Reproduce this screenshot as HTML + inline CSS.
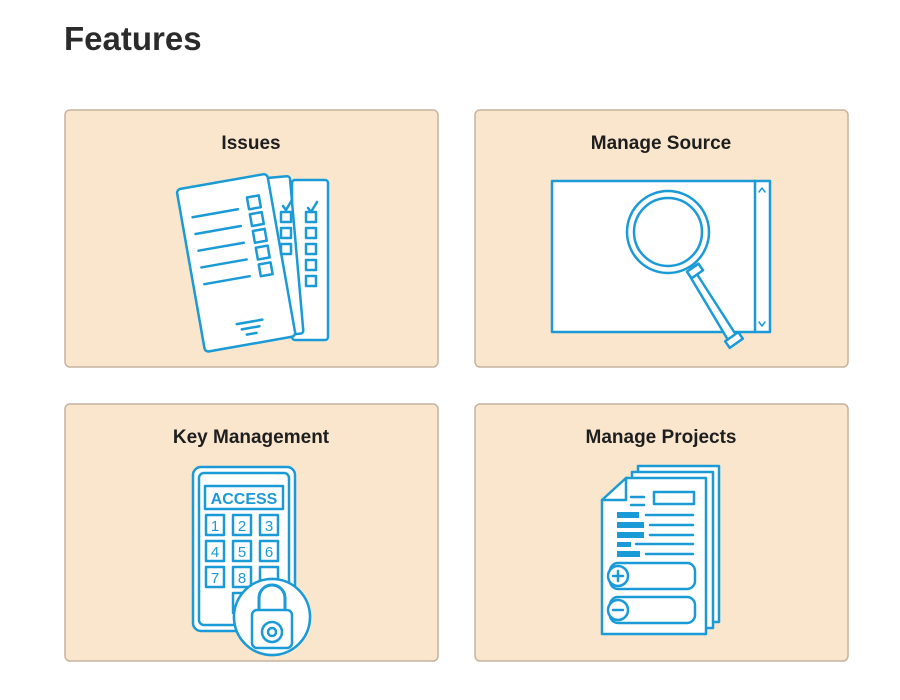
<!DOCTYPE html>
<html><head><meta charset="utf-8"><style>
body{margin:0;background:#fff;width:900px;height:700px;overflow:hidden;font-family:"Liberation Sans",Arial,sans-serif;}
</style></head><body>
<svg width="900" height="700" xmlns="http://www.w3.org/2000/svg" style="position:absolute;left:0;top:0">
<text x="64" y="50" font-family="Liberation Sans, sans-serif" font-weight="bold" font-size="33" fill="#2b2b2b">Features</text>
<g fill="#fae6cd" stroke="#c6b39e" stroke-width="1.5">
<rect x="65" y="110" width="373" height="257" rx="5"/>
<rect x="475" y="110" width="373" height="257" rx="5"/>
<rect x="65" y="404" width="373" height="257" rx="5"/>
<rect x="475" y="404" width="373" height="257" rx="5"/>
</g>
<g font-family="Liberation Sans, sans-serif" font-weight="bold" font-size="19" fill="#1e1e1e" text-anchor="middle">
<text x="251" y="149">Issues</text>
<text x="661" y="149">Manage Source</text>
<text x="251" y="443">Key Management</text>
<text x="661" y="443">Manage Projects</text>
</g>
<g stroke="#1a9ad6" stroke-width="2.5" fill="#fff" stroke-linejoin="round" stroke-linecap="round">
<!-- Issues -->
<rect x="292" y="180" width="36" height="160" rx="3"/>
<g transform="rotate(-5 270 260)"><rect x="245" y="178" width="52" height="158" rx="3"/></g>
<g transform="rotate(-10 238 262)"><rect x="190" y="180" width="92" height="165" rx="4"/>
<line x1="201" y1="210" x2="247" y2="210"/><line x1="201" y1="227" x2="247" y2="227"/><line x1="201" y1="244" x2="247" y2="244"/><line x1="201" y1="261" x2="247" y2="261"/><line x1="201" y1="278" x2="247" y2="278"/>
<line x1="226" y1="323" x2="252" y2="323"/><line x1="230" y1="329" x2="248" y2="329"/><line x1="234" y1="335" x2="244" y2="335"/>
<rect x="258" y="200" width="12" height="12"/><rect x="258" y="217" width="12" height="12"/><rect x="258" y="234" width="12" height="12"/><rect x="258" y="251" width="12" height="12"/><rect x="258" y="268" width="12" height="12"/></g>
<rect x="306" y="212" width="10" height="10" fill="none"/><rect x="306" y="228" width="10" height="10" fill="none"/><rect x="306" y="244" width="10" height="10" fill="none"/><rect x="306" y="260" width="10" height="10" fill="none"/><rect x="306" y="276" width="10" height="10" fill="none"/>
<path d="M308 208l3 4 6-10" fill="none"/><path d="M283 206l3 4 6-10" fill="none"/>
<rect x="281" y="212" width="10" height="10" fill="none"/><rect x="281" y="228" width="10" height="10" fill="none"/><rect x="281" y="244" width="10" height="10" fill="none"/>
<!-- Manage Source -->
<rect x="552" y="181" width="218" height="151"/>
<line x1="755" y1="181" x2="755" y2="332"/>
<path d="M759 192l3-4 3 4M759 322l3 4 3-4" fill="none" stroke-width="1.5"/>
<path d="M693 268 L738 338 L731 345 L688 273 Z"/>
<rect x="726" y="336" width="16" height="8" transform="rotate(-35 734 340)"/>
<rect x="688" y="267" width="14" height="8" transform="rotate(-35 695 271)"/>
<circle cx="668" cy="232" r="41"/><circle cx="668" cy="232" r="34"/>
<!-- Key Management -->
<rect x="193" y="467" width="102" height="164" rx="8"/>
<rect x="199" y="473" width="90" height="152" rx="5"/>
<rect x="205" y="486" width="78" height="23"/>
<g fill="#fff">
<rect x="206" y="515" width="18" height="20"/><rect x="233" y="515" width="18" height="20"/><rect x="260" y="515" width="18" height="20"/>
<rect x="206" y="541" width="18" height="20"/><rect x="233" y="541" width="18" height="20"/><rect x="260" y="541" width="18" height="20"/>
<rect x="206" y="567" width="18" height="20"/><rect x="233" y="567" width="18" height="20"/><rect x="260" y="567" width="18" height="20"/>
<rect x="233" y="593" width="18" height="20"/>
</g>
<circle cx="272" cy="617" r="38"/>
<path d="M259 612v-14a13 13 0 0 1 26 0v14" fill="none" stroke-width="3"/>
<rect x="252" y="610" width="40" height="38" rx="5"/>
<circle cx="272" cy="632" r="10"/><circle cx="272" cy="632" r="4"/>
<!-- Manage Projects -->
<rect x="638" y="466" width="81" height="156"/>
<rect x="632" y="472" width="81" height="156"/>
<path d="M626 478 H706 V634 H602 V500 Z"/>
<path d="M626 478 V500 H602" fill="none"/>
<rect x="654" y="492" width="40" height="12"/>
<line x1="631" y1="497" x2="644" y2="497"/><line x1="631" y1="505" x2="644" y2="505"/>
<g fill="#1a9ad6" stroke="none"><rect x="617" y="512" width="22" height="6"/><rect x="617" y="522" width="27" height="6"/><rect x="617" y="532" width="27" height="6"/><rect x="617" y="542" width="14" height="5"/><rect x="617" y="551" width="23" height="6"/></g>
<line x1="646" y1="515" x2="693" y2="515"/><line x1="650" y1="525" x2="693" y2="525"/><line x1="650" y1="535" x2="693" y2="535"/><line x1="636" y1="544" x2="693" y2="544"/><line x1="646" y1="554" x2="693" y2="554"/>
<rect x="610" y="563" width="85" height="26" rx="8"/>
<rect x="610" y="597" width="85" height="26" rx="8"/>
<circle cx="618" cy="576" r="10"/><circle cx="618" cy="610" r="10"/>
<path d="M613 576h10M618 571v10M613 610h10" fill="none"/>
</g>
<g font-family="Liberation Sans, sans-serif" fill="#1a9ad6" text-anchor="middle">
<text x="244" y="504" font-weight="bold" font-size="16">ACCESS</text>
<g font-size="15"><text x="215" y="531">1</text><text x="242" y="531">2</text><text x="269" y="531">3</text><text x="215" y="557">4</text><text x="242" y="557">5</text><text x="269" y="557">6</text><text x="215" y="583">7</text><text x="242" y="583">8</text></g>
</g>
<circle cx="272" cy="617" r="38" fill="#fff" stroke="#1a9ad6" stroke-width="2.5"/>
<path d="M259 612v-14a13 13 0 0 1 26 0v14" fill="none" stroke="#1a9ad6" stroke-width="3"/>
<rect x="252" y="610" width="40" height="38" rx="5" fill="#fff" stroke="#1a9ad6" stroke-width="2.5"/>
<circle cx="272" cy="632" r="10" fill="#fff" stroke="#1a9ad6" stroke-width="2.5"/><circle cx="272" cy="632" r="4" fill="#fff" stroke="#1a9ad6" stroke-width="2.5"/>
</svg>
</body></html>
